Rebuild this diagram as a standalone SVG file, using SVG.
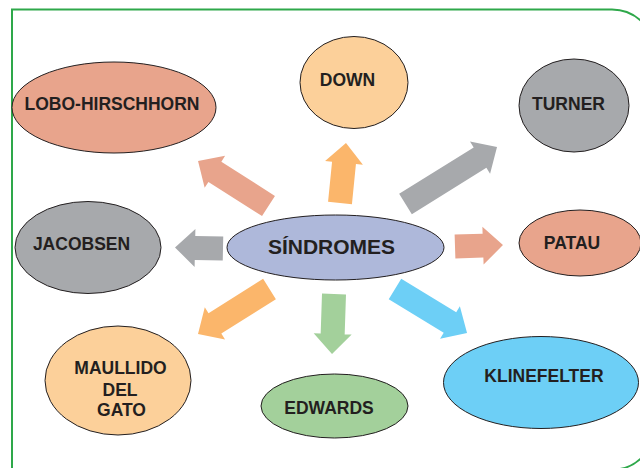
<svg xmlns="http://www.w3.org/2000/svg" width="640" height="468" viewBox="0 0 640 468">
<style>
.n{stroke:#231f20;stroke-width:1}
.t{font-family:"Liberation Sans",Arial,sans-serif;font-weight:bold;font-size:17.5px;fill:#231f20;text-anchor:middle}
.salmon{fill:#e8a48c}
.orange{fill:#fbb66b}
.lorange{fill:#fcd09a}
.gray{fill:#a7a9ac}
.lav{fill:#aeb8da}
.green{fill:#a3d09b}
.cyan{fill:#6dcff6}
</style>
<rect width="640" height="468" fill="#ffffff"/>
<path d="M12,472 V9.5 H612 A42.6,42.6 0 0 1 654.6,52.1 V427 A42.6,42.6 0 0 1 612,469.7 H12" fill="none" stroke="#2ea84a" stroke-width="2"/>
<g id="connectors">
<polygon class="salmon" transform="translate(268.5,206) rotate(212.55)" points="0,-12 63.6,-12 63.6,-19 83.6,0 63.6,19 63.6,12 0,12"/>
<polygon class="orange" transform="translate(340,203) rotate(-84.3)" points="0,-12 40.3,-12 40.3,-19 60.3,0 40.3,19 40.3,12 0,12"/>
<polygon class="gray" transform="translate(405.5,204) rotate(-31.9)" points="0,-12 87.8,-12 87.8,-19 107.8,0 87.8,19 87.8,12 0,12"/>
<polygon class="gray" transform="translate(223,248.5) rotate(181.2)" points="0,-12 28,-12 28,-19 48,0 28,19 28,12 0,12"/>
<polygon class="salmon" transform="translate(455,246.5) rotate(-1.8)" points="0,-12 28,-12 28,-19 48,0 28,19 28,12 0,12"/>
<polygon class="orange" transform="translate(269.5,289) rotate(147.8)" points="0,-12 64.5,-12 64.5,-19 84.5,0 64.5,19 64.5,12 0,12"/>
<polygon class="green" transform="translate(334,294) rotate(91.9)" points="0,-12 40,-12 40,-19 60,0 40,19 40,12 0,12"/>
<polygon class="cyan" transform="translate(395,289) rotate(31.4)" points="0,-12 64.4,-12 64.4,-19 84.4,0 64.4,19 64.4,12 0,12"/>
</g>
<g id="lobo">
<ellipse class="n salmon" cx="114" cy="107.5" rx="102" ry="45.5"/>
<text class="t" x="112" y="110">LOBO-HIRSCHHORN</text>
</g>
<g id="down">
<ellipse class="n lorange" cx="354" cy="82.5" rx="54" ry="46"/>
<text class="t" x="347.5" y="86">DOWN</text>
</g>
<g id="turner">
<ellipse class="n gray" cx="574" cy="105.5" rx="55" ry="46.5"/>
<text class="t" x="568.5" y="110">TURNER</text>
</g>
<g id="jacobsen">
<ellipse class="n gray" cx="88" cy="247.5" rx="73" ry="46"/>
<text class="t" x="81.5" y="250">JACOBSEN</text>
</g>
<g id="sindromes">
<ellipse class="n lav" cx="335.5" cy="247.5" rx="108.5" ry="32.5"/>
<text class="t" x="331.5" y="254" style="font-size:21px">SÍNDROMES</text>
</g>
<g id="patau">
<ellipse class="n salmon" cx="580" cy="243" rx="61" ry="33"/>
<text class="t" x="572" y="249">PATAU</text>
</g>
<g id="maullido">
<ellipse class="n lorange" cx="118" cy="380.5" rx="73" ry="54.5"/>
<text class="t" x="120.5" y="374">MAULLIDO</text>
<text class="t" x="120" y="396">DEL</text>
<text class="t" x="121.5" y="416">GATO</text>
</g>
<g id="edwards">
<ellipse class="n green" cx="334.5" cy="406" rx="73.5" ry="32"/>
<text class="t" x="329" y="414">EDWARDS</text>
</g>
<g id="klinefelter">
<ellipse class="n cyan" cx="541" cy="382.5" rx="97.5" ry="46"/>
<text class="t" x="544" y="382">KLINEFELTER</text>
</g>
</svg>
